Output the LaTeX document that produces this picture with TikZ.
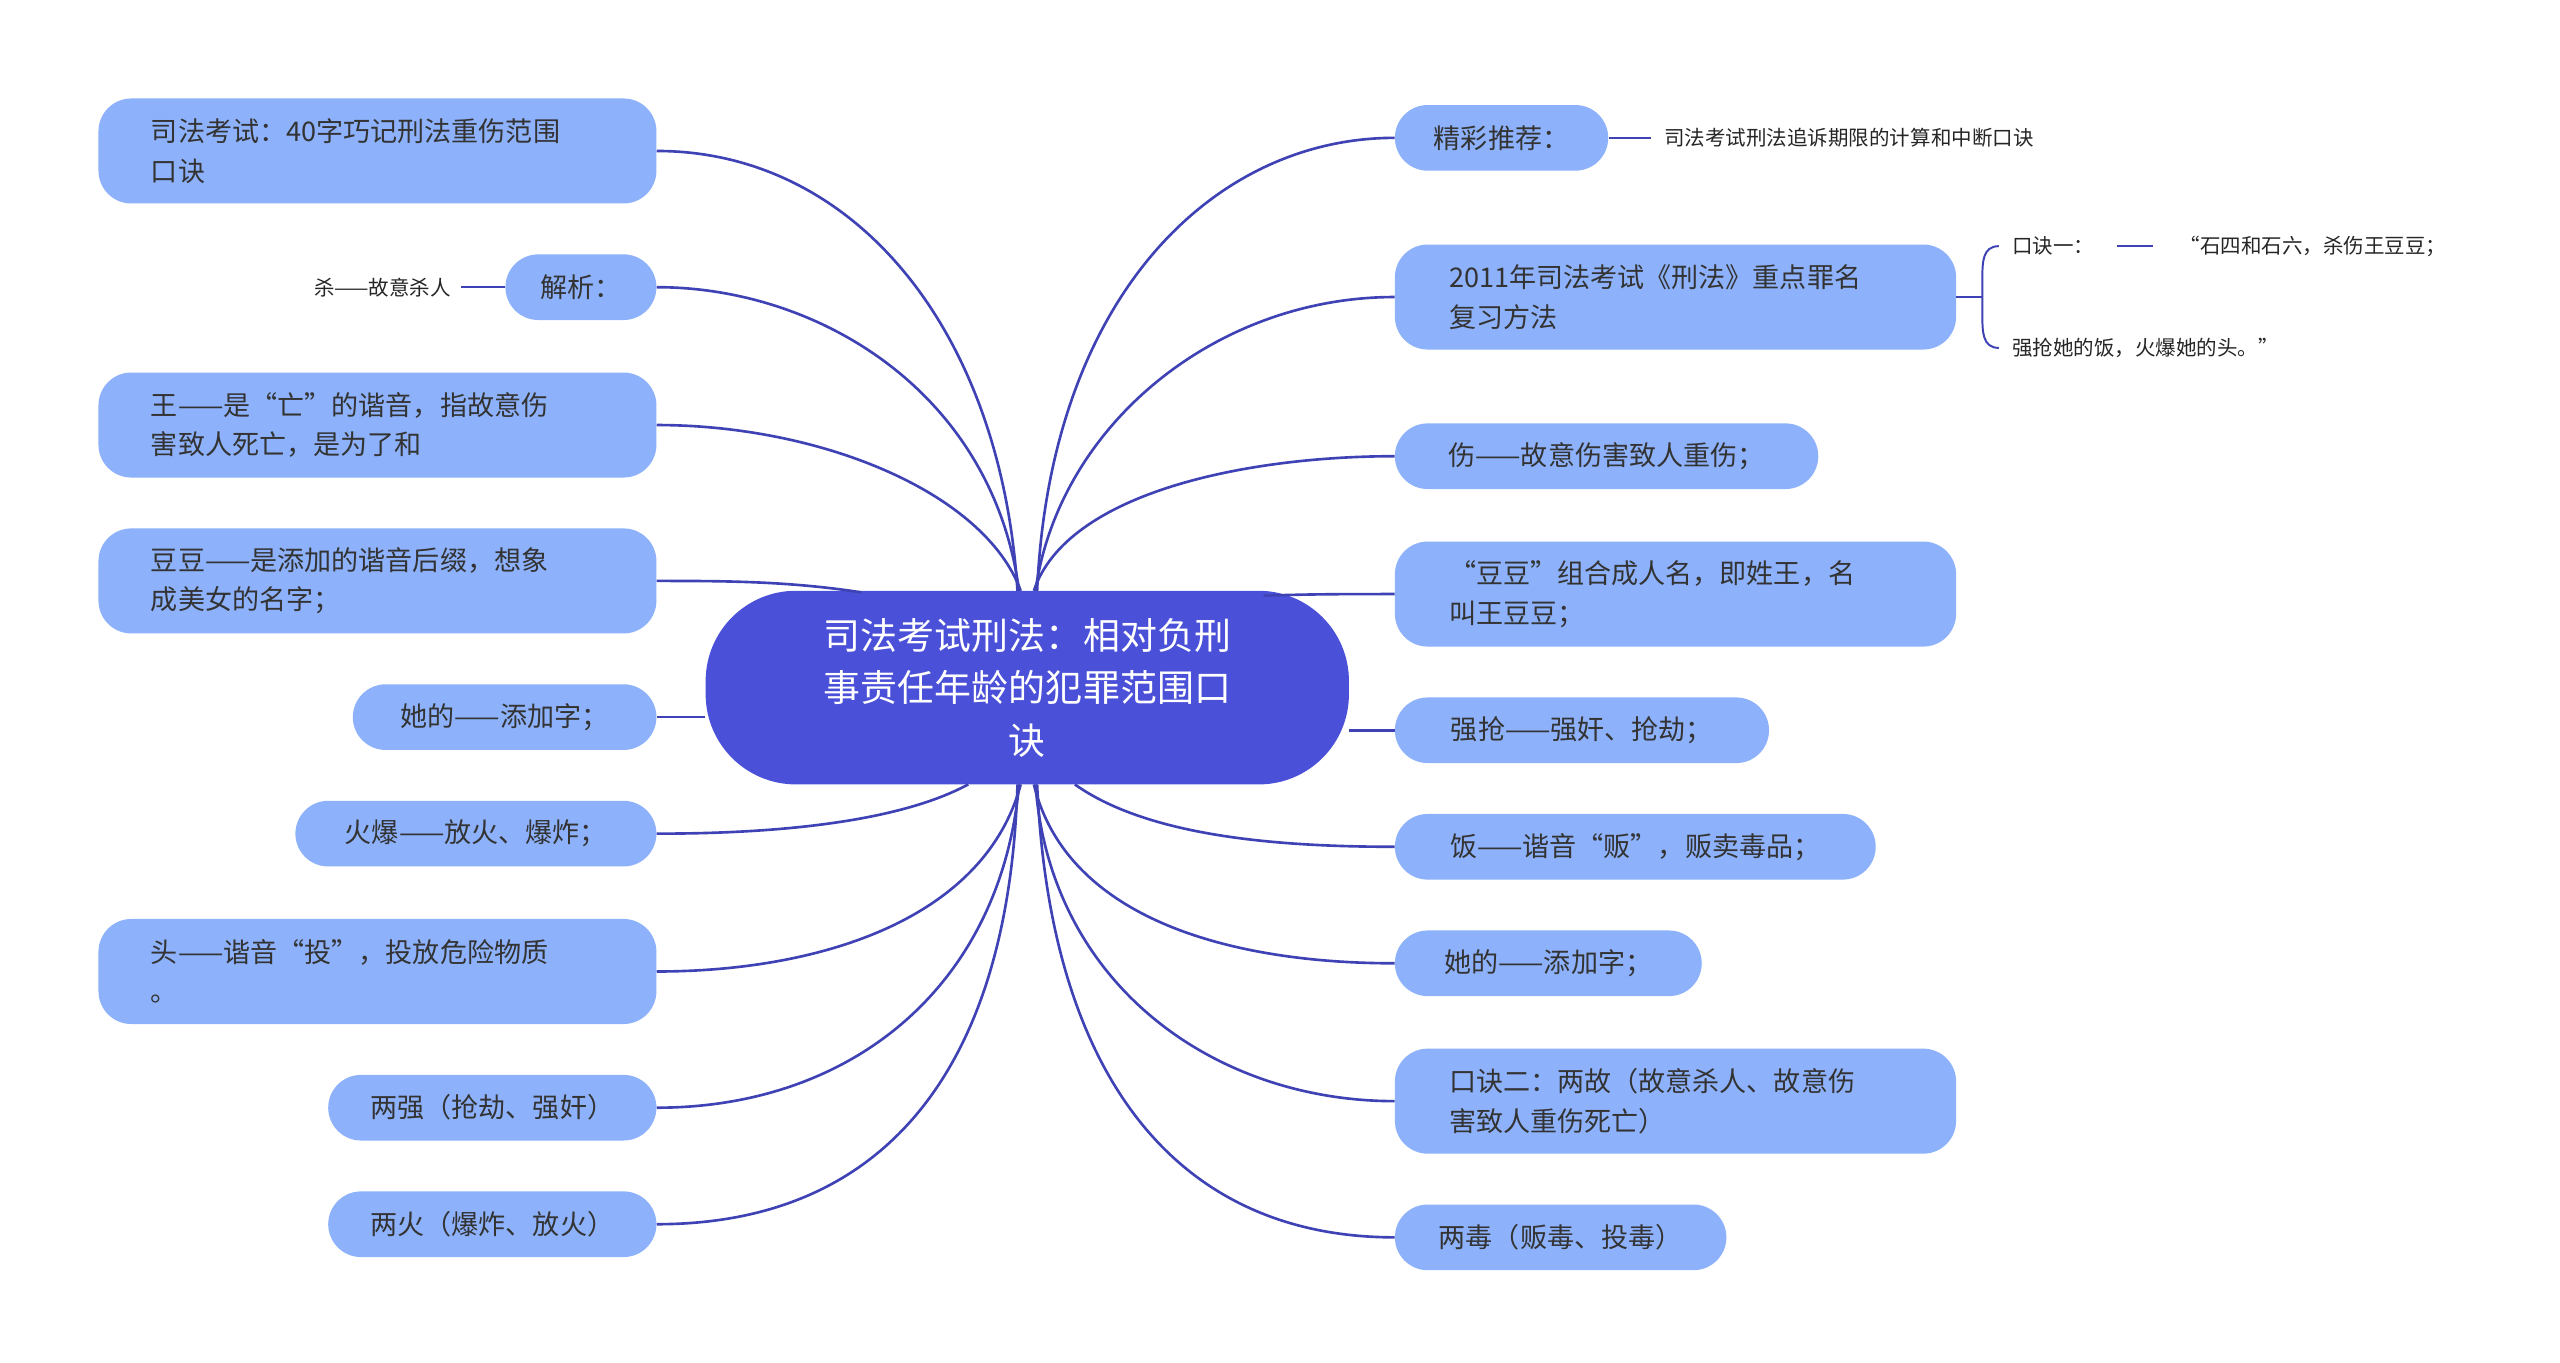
\documentclass[tikz,border=0pt]{standalone}
\usepackage{fontspec}
\setmainfont{Noto Sans CJK SC}
\XeTeXlinebreaklocale "zh"
\XeTeXlinebreakskip=0pt plus 1pt
\definecolor{cen}{HTML}{4A50D8}
\definecolor{lb}{HTML}{8DB2FB}
\definecolor{ln}{HTML}{3F42B5}
\tikzset{
 bx/.style={fill=lb,draw=none,rounded corners=20pt,align=left,font=\fontsize{16.5}{24}\selectfont,text=black!80,inner sep=0pt},
 cn/.style={line width=1.6pt,draw=ln},
 lf/.style={font=\fontsize{12.5}{16}\selectfont,text=black!85,inner sep=0pt},
}
\begin{document}
\begin{tikzpicture}[x=1pt,y=-1pt]
\useasboundingbox (0,0) rectangle (1560,830);
\fill[white] (0,0) rectangle (1560,830);
% central
\node[fill=cen,rounded corners=55pt,minimum width=392pt,minimum height=118pt,text width=262pt,align=center,text=white,font=\fontsize{22.5}{32}\selectfont,inner sep=0pt] (c) at (626,419) {司法考试刑法：相对负刑事责任年龄的犯罪范围口\\诀};
% left nodes
\node[bx,minimum width=340pt,minimum height=64pt,text width=276pt] (l1) at (230,92) {司法考试：40字巧记刑法重伤范围\\口诀};
\node[bx,minimum width=92pt,minimum height=40pt] (l2) at (354,175) {解析：};
\node[bx,minimum width=340pt,minimum height=64pt,text width=276pt] (l3) at (230,259) {王——是“亡”的谐音，指故意伤\\害致人死亡，是为了和};
\node[bx,minimum width=340pt,minimum height=64pt,text width=276pt] (l4) at (230,354) {豆豆——是添加的谐音后缀，想象\\成美女的名字；};
\node[bx,minimum width=185pt,minimum height=40pt] (l5) at (307.5,437) {她的——添加字；};
\node[bx,minimum width=220pt,minimum height=40pt] (l6) at (290,508) {火爆——放火、爆炸；};
\node[bx,minimum width=340pt,minimum height=64pt,text width=276pt] (l7) at (230,592) {头——谐音“投”，投放危险物质\\。};
\node[bx,minimum width=200pt,minimum height=40pt] (l8) at (300,675) {两强（抢劫、强奸）};
\node[bx,minimum width=200pt,minimum height=40pt] (l9) at (300,746) {两火（爆炸、放火）};
% right nodes
\node[bx,minimum width=130pt,minimum height=40pt] (r1) at (915,84) {精彩推荐：};
\node[bx,minimum width=342pt,minimum height=64pt,text width=276pt] (r2) at (1021,181) {2011年司法考试《刑法》重点罪名\\复习方法};
\node[bx,minimum width=258pt,minimum height=40pt] (r3) at (979,278) {伤——故意伤害致人重伤；};
\node[bx,minimum width=342pt,minimum height=64pt,text width=276pt] (r4) at (1021,362) {“豆豆”组合成人名，即姓王，名\\叫王豆豆；};
\node[bx,minimum width=228pt,minimum height=40pt] (r5) at (964,445) {强抢——强奸、抢劫；};
\node[bx,minimum width=293pt,minimum height=40pt] (r6) at (996.5,516) {饭——谐音“贩”，贩卖毒品；};
\node[bx,minimum width=187pt,minimum height=40pt] (r7) at (943.5,587) {她的——添加字；};
\node[bx,minimum width=342pt,minimum height=64pt,text width=276pt] (r8) at (1021,671) {口诀二：两故（故意杀人、故意伤\\害致人重伤死亡）};
\node[bx,minimum width=202pt,minimum height=40pt] (r9) at (951,754) {两毒（贩毒、投毒）};
% leaves
\node[lf,anchor=east] (k1) at (275,175) {杀——故意杀人};
\draw[cn] (l2.west) -- ([xshift=6pt]k1.east);
\node[lf,anchor=west] (k2) at (1014,84) {司法考试刑法追诉期限的计算和中断口诀};
\draw[cn] (r1.east) -- ([xshift=-8pt]k2.west);
\node[lf,anchor=west] (k3) at (1226,150) {口诀一：};
\node[lf,anchor=west] (k4) at (1328,150) {“石四和石六，杀伤王豆豆；};
\coordinate (d1) at (1290,150);
\draw[cn] (d1) -- ([xshift=-16pt]k4.west);
\node[lf,anchor=west] (k5) at (1226,212) {强抢她的饭，火爆她的头。”};
\draw[line width=1.2pt,draw=ln] (1218,150) .. controls (1208,150) and (1208,160) .. (1208,170) -- (1208,192) .. controls (1208,202) and (1208,212) .. (1218,212);
\draw[line width=1.2pt,draw=ln] (r2.east) -- (1208,181);
% connectors left
\draw[cn] (620,360) .. controls (610,200) and (520,92) .. (l1.east);
\draw[cn] (621,360) .. controls (605,240) and (500,175) .. (l2.east);
\draw[cn] (622,360) .. controls (600,300) and (500,259) .. (l3.east);
\draw[cn] (525,361) .. controls (480,354) and (440,354) .. (l4.east);
\draw[cn] (c.west |- l5) -- (l5.east);
\draw[cn] (590,478) .. controls (540,505) and (450,508) .. (l6.east);
\draw[cn] (622,478) .. controls (600,560) and (500,592) .. (l7.east);
\draw[cn] (621,478) .. controls (610,600) and (520,675) .. (l8.east);
\draw[cn] (620,478) .. controls (615,650) and (540,746) .. (l9.east);
% connectors right
\draw[cn] (632,360) .. controls (640,180) and (740,84) .. (r1.west);
\draw[cn] (631,360) .. controls (645,260) and (740,181) .. (r2.west);
\draw[cn] (630,360) .. controls (650,300) and (760,278) .. (r3.west);
\draw[cn] (770,363) .. controls (800,362) and (820,362) .. (r4.west);
\draw[cn] (c.east |- r5) -- (r5.west);
\draw[cn] (655,478) .. controls (700,510) and (780,516) .. (r6.west);
\draw[cn] (630,478) .. controls (650,560) and (750,587) .. (r7.west);
\draw[cn] (631,478) .. controls (640,600) and (740,671) .. (r8.west);
\draw[cn] (632,478) .. controls (640,660) and (720,754) .. (r9.west);
\end{tikzpicture}
\end{document}
